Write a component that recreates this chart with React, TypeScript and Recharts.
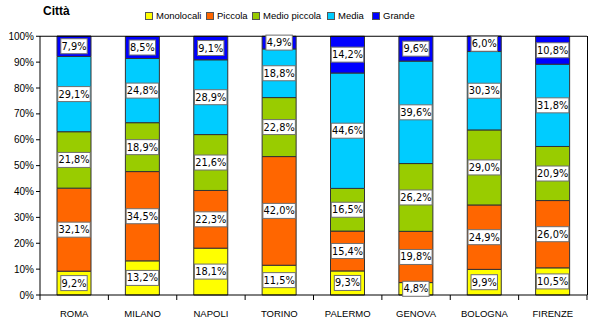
import React from 'react';
import { Bar, BarChart, XAxis, YAxis, ReferenceLine } from 'recharts';

const cities = ['ROMA', 'MILANO', 'NAPOLI', 'TORINO', 'PALERMO', 'GENOVA', 'BOLOGNA', 'FIRENZE'];
const monolocali = [9.2, 13.2, 18.1, 11.5, 9.3, 4.8, 9.9, 10.5];
const piccola = [32.1, 34.5, 22.3, 42.0, 15.4, 19.8, 24.9, 26.0];
const medioPiccola = [21.8, 18.9, 21.6, 22.8, 16.5, 26.2, 29.0, 20.9];
const media = [29.1, 24.8, 28.9, 18.8, 44.6, 39.6, 30.3, 31.8];
const grande = [7.9, 8.5, 9.1, 4.9, 14.2, 9.6, 6.0, 10.8];
const yTicks = [0, 10, 20, 30, 40, 50, 60, 70, 80, 90, 100];

const series = [
  { key: 'monolocali', name: 'Monolocali', color: '#FFFF00', lx: 145 },
  { key: 'piccola', name: 'Piccola', color: '#FF6600', lx: 206 },
  { key: 'medioPiccola', name: 'Medio piccola', color: '#99CC00', lx: 252 },
  { key: 'media', name: 'Media', color: '#00CCFF', lx: 327 },
  { key: 'grande', name: 'Grande', color: '#0000FF', lx: 372 },
];

const data: any[] = cities.map((city, i) => ({
  city,
  monolocali: monolocali[i],
  piccola: piccola[i],
  medioPiccola: medioPiccola[i],
  media: media[i],
  grande: grande[i],
}));

const FONT = '"Liberation Sans", Arial, sans-serif';
const LABEL_FONT = '"DejaVu Sans", Verdana, sans-serif';
const fmt = (v: number) => v.toFixed(1).replace('.', ',') + '%';

// the stacked bar hands over the cumulative value, so read the segment from the data
const renderBoxLabel = (props: any, key: string) => {
  const { x, y, width, height, index } = props;
  const text = fmt(Number(data[index][key]));
  const w = text.length * 6.1 + 2;
  const h = 15;
  const cx = Number(x) + Number(width) / 2;
  const cy = Number(y) + Number(height) / 2;
  return (
    <g key={`lbl-${key}-${index}`}>
      <rect x={cx - w / 2} y={cy - h / 2} width={w} height={h} fill="#fff" stroke="#6f6f6f" strokeWidth={1} />
      <text x={cx} y={cy + 3.5} textAnchor="middle" fontSize={9.8} fontFamily={LABEL_FONT} fill="#000">
        {text}
      </text>
    </g>
  );
};

const BAND = 547 / 8;

const CityTick = (props: any) => {
  const { x, y, payload, index } = props;
  return (
    <g>
      <line x1={x - BAND / 2} y1={y - 8} x2={x - BAND / 2} y2={y - 3} stroke="#000" />
      {index === cities.length - 1 && (
        <line x1={x + BAND / 2} y1={y - 8} x2={x + BAND / 2} y2={y - 3} stroke="#000" />
      )}
      <text x={x} y={y + 14} textAnchor="middle" fontSize={9.5} fontFamily={FONT} fill="#000">
        {payload.value}
      </text>
    </g>
  );
};

export default function App() {
  return (
    <div style={{ position: 'absolute', left: 0, top: 0, width: 610, height: 330, fontFamily: FONT }}>
      <div style={{ position: 'absolute', left: 43, top: 4, fontSize: 12, fontWeight: 'bold' }}>Città</div>
      {series.map((s) => (
        <div key={s.key} style={{ position: 'absolute', left: s.lx, top: 10, display: 'flex', alignItems: 'center', fontSize: 9.5, whiteSpace: 'nowrap' }}>
          <span style={{ width: 6, height: 6, background: s.color, border: '1px solid #555', marginRight: 3 }} />
          <span>{s.name}</span>
        </div>
      ))}
      <div style={{ position: 'absolute', left: 0, top: 0 }}>
        <BarChart
          width={610}
          height={330}
          data={data}
          margin={{ top: 36, right: 23, left: 0, bottom: 5 }}
          barSize={34}
        >
          <XAxis
            dataKey="city"
            tick={<CityTick />}
            tickLine={false}
            axisLine={{ stroke: '#000' }}
            height={30}
            interval={0}
          />
          <YAxis
            domain={[0, 100]}
            ticks={yTicks}
            tickFormatter={(v) => `${v}%`}
            width={40}
            tick={{ fontSize: 10, fontFamily: FONT, fill: '#000' }}
            tickLine={{ stroke: '#000' }}
            tickSize={4}
            axisLine={{ stroke: '#000' }}
          />
          <ReferenceLine y={100} stroke="#000" />
          {series.map((s) => (
            <Bar
              key={s.key}
              dataKey={s.key}
              name={s.name}
              stackId="a"
              fill={s.color}
              stroke="#333"
              strokeWidth={1}
              isAnimationActive={false}
              label={(p: any) => renderBoxLabel(p, s.key)}
            />
          ))}
        </BarChart>
      </div>
      <div style={{ position: 'absolute', left: 40, top: 36, width: 547, height: 259, borderRight: '1px solid #000', pointerEvents: 'none' }} />
    </div>
  );
}
